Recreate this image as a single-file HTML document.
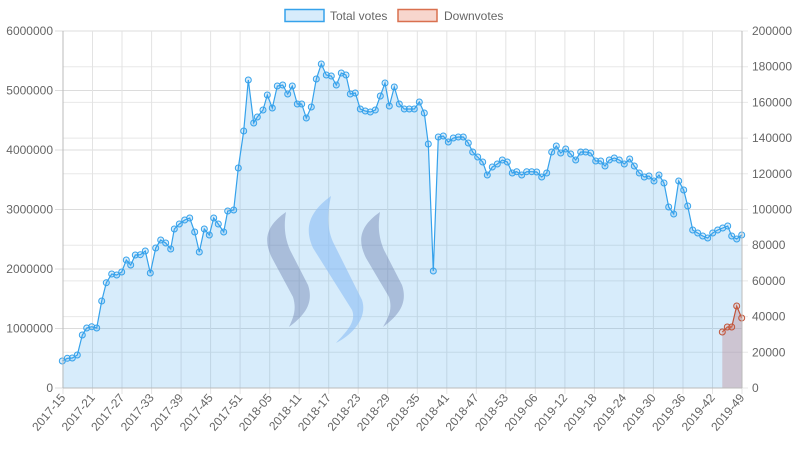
<!DOCTYPE html>
<html><head><meta charset="utf-8"><style>
html,body{margin:0;padding:0;background:#fff;}
svg{display:block;font-family:"Liberation Sans",Arial,sans-serif;}
</style></head><body>
<svg width="798" height="450" viewBox="0 0 798 450" xmlns="http://www.w3.org/2000/svg">
<defs>
<marker id="mb" markerWidth="8" markerHeight="8" refX="4" refY="4" markerUnits="userSpaceOnUse"><circle cx="4" cy="4" r="3" fill="rgba(54,162,235,0.2)" stroke="#36a2eb" stroke-width="1"/></marker>
<marker id="mr" markerWidth="8" markerHeight="8" refX="4" refY="4" markerUnits="userSpaceOnUse"><circle cx="4" cy="4" r="3" fill="rgba(230,120,90,0.2)" stroke="#c0543a" stroke-width="1"/></marker>
</defs>
<g stroke="#dcdcdc" stroke-width="1">
<line x1="55" x2="742" y1="388" y2="388"/><line x1="55" x2="742" y1="328.5" y2="328.5"/><line x1="55" x2="742" y1="269" y2="269"/><line x1="55" x2="742" y1="209.5" y2="209.5"/><line x1="55" x2="742" y1="150" y2="150"/><line x1="55" x2="742" y1="90.5" y2="90.5"/><line x1="55" x2="742" y1="31" y2="31"/>
</g>
<g stroke="#e8e8e8" stroke-width="1">
<line x1="63" x2="748" y1="352.3" y2="352.3"/><line x1="63" x2="748" y1="316.6" y2="316.6"/><line x1="63" x2="748" y1="280.9" y2="280.9"/><line x1="63" x2="748" y1="245.2" y2="245.2"/><line x1="63" x2="748" y1="173.8" y2="173.8"/><line x1="63" x2="748" y1="138.1" y2="138.1"/><line x1="63" x2="748" y1="102.4" y2="102.4"/><line x1="63" x2="748" y1="66.7" y2="66.7"/>
<line x1="742" x2="748" y1="388" y2="388"/><line x1="742" x2="748" y1="31" y2="31"/><line x1="742" x2="748" y1="209.5" y2="209.5"/>
</g>
<g stroke="#e3e3e3" stroke-width="1">
<line x1="92.5" x2="92.5" y1="31" y2="394"/><line x1="122" x2="122" y1="31" y2="394"/><line x1="151.6" x2="151.6" y1="31" y2="394"/><line x1="181.1" x2="181.1" y1="31" y2="394"/><line x1="210.6" x2="210.6" y1="31" y2="394"/><line x1="240.1" x2="240.1" y1="31" y2="394"/><line x1="269.7" x2="269.7" y1="31" y2="394"/><line x1="299.2" x2="299.2" y1="31" y2="394"/><line x1="328.7" x2="328.7" y1="31" y2="394"/><line x1="358.2" x2="358.2" y1="31" y2="394"/><line x1="387.7" x2="387.7" y1="31" y2="394"/><line x1="417.3" x2="417.3" y1="31" y2="394"/><line x1="446.8" x2="446.8" y1="31" y2="394"/><line x1="476.3" x2="476.3" y1="31" y2="394"/><line x1="505.8" x2="505.8" y1="31" y2="394"/><line x1="535.3" x2="535.3" y1="31" y2="394"/><line x1="564.9" x2="564.9" y1="31" y2="394"/><line x1="594.4" x2="594.4" y1="31" y2="394"/><line x1="623.9" x2="623.9" y1="31" y2="394"/><line x1="653.4" x2="653.4" y1="31" y2="394"/><line x1="683" x2="683" y1="31" y2="394"/><line x1="712.5" x2="712.5" y1="31" y2="394"/>
<line x1="63" x2="63" y1="388" y2="394"/><line x1="742" x2="742" y1="388" y2="394"/>
</g>
<g font-size="12" fill="#666" text-anchor="end">
<text x="53" y="392">0</text><text x="53" y="332.5">1000000</text><text x="53" y="273">2000000</text><text x="53" y="213.5">3000000</text><text x="53" y="154">4000000</text><text x="53" y="94.5">5000000</text><text x="53" y="35">6000000</text>
</g>
<g font-size="12" fill="#666">
<text x="752" y="392">0</text><text x="752" y="356.3">20000</text><text x="752" y="320.6">40000</text><text x="752" y="284.9">60000</text><text x="752" y="249.2">80000</text><text x="752" y="213.5">100000</text><text x="752" y="177.8">120000</text><text x="752" y="142.1">140000</text><text x="752" y="106.4">160000</text><text x="752" y="70.7">180000</text><text x="752" y="35">200000</text>
</g>
<g font-size="12" fill="#666" text-anchor="end">
<text transform="translate(66,398) rotate(-50)">2017-15</text>
<text transform="translate(95.5,398) rotate(-50)">2017-21</text>
<text transform="translate(125,398) rotate(-50)">2017-27</text>
<text transform="translate(154.6,398) rotate(-50)">2017-33</text>
<text transform="translate(184.1,398) rotate(-50)">2017-39</text>
<text transform="translate(213.6,398) rotate(-50)">2017-45</text>
<text transform="translate(243.1,398) rotate(-50)">2017-51</text>
<text transform="translate(272.7,398) rotate(-50)">2018-05</text>
<text transform="translate(302.2,398) rotate(-50)">2018-11</text>
<text transform="translate(331.7,398) rotate(-50)">2018-17</text>
<text transform="translate(361.2,398) rotate(-50)">2018-23</text>
<text transform="translate(390.7,398) rotate(-50)">2018-29</text>
<text transform="translate(420.3,398) rotate(-50)">2018-35</text>
<text transform="translate(449.8,398) rotate(-50)">2018-41</text>
<text transform="translate(479.3,398) rotate(-50)">2018-47</text>
<text transform="translate(508.8,398) rotate(-50)">2018-53</text>
<text transform="translate(538.3,398) rotate(-50)">2019-06</text>
<text transform="translate(567.9,398) rotate(-50)">2019-12</text>
<text transform="translate(597.4,398) rotate(-50)">2019-18</text>
<text transform="translate(626.9,398) rotate(-50)">2019-24</text>
<text transform="translate(656.4,398) rotate(-50)">2019-30</text>
<text transform="translate(686,398) rotate(-50)">2019-36</text>
<text transform="translate(715.5,398) rotate(-50)">2019-42</text>
<text transform="translate(745,398) rotate(-50)">2019-49</text>
</g>
<polygon fill="rgba(54,162,235,0.2)" points="62.3,388 62.3,361 67.3,358.3 72.3,358 77.3,355 82.3,335 86.7,328 91.7,326.7 96.7,328 101.7,301 106.3,282.7 111.7,274 116.7,275 121.7,272 126.3,260 130.7,265 135.3,255 140.3,254.7 145.3,251 150.3,273 155.7,248 160.7,240 165.7,243 170.7,249 174.3,229 179.3,224 184.7,220 189.7,218 194.7,232 199.3,252 204.3,229 209.3,235 213.7,218 218.3,224 223.7,232 227.7,211 233.7,210 238.3,168 243.7,131 248.3,80 253.7,123 257.3,117 263,110 267.3,95 272.3,108 277.3,86 282.7,85 287.7,94 292.3,86 297.3,104 301.7,104 306.3,118 311.3,107 316.3,79 321.3,64 326.3,75 331.3,76 336.3,85 341.3,73 346,75 350.3,94 355.3,93 360.3,109 365.3,111 370.3,112 375.3,110 380.3,96 385,83 389.3,106 394.3,87 399.3,104 404.3,109 409.3,109 414.3,109 419.3,102 424.3,113 428.3,144 433.3,271 438.3,137 443.3,136 448.3,142 453.3,138 458.3,137 463.3,137 468.3,143 472.7,152 477.7,157 482.7,162 487.3,175 492.3,167 497.3,164 502.3,160 507.3,162 512.3,173 516.7,171.7 521.7,175 526.7,171.7 531.7,171.7 536.7,172 541.7,177 546.7,173 551.7,152 556.3,146 560.7,153 565.7,149 570.7,154 575.7,160 580.7,152 585.7,152 590.7,153 595.7,161 600.7,161 605,166 609.3,160 614.3,158 619.3,160 624.3,164 629.7,159 634.3,166 639.3,173 644.3,177 649,176 654,181 659,175 664,183 668.7,207 673.7,214 678.7,181 683.7,190 687.7,206 692.7,230 697.7,233 702.7,236 707.7,238 712.7,233 717.7,230 722.7,228 727.7,226 731.7,236 736.7,239 741.7,235 741.7,388"/>
<path d="M286,212 C266,226 263,240 272,258 L293,297 C297,310 293,318 289,327 C305,315 314,303 308,285 L290,250 C284,236 284,224 286,212 Z" fill="rgba(100,120,170,0.4)"/>
<path d="M331,196 C309,212 304,228 313,248 L352,310 C357,322 345,333 336,343 C352,335 368,318 362,300 L333,242 C326,226 328,210 331,196 Z" fill="rgba(140,190,245,0.6)"/>
<path d="M380,212 C360,226 357,240 366,258 L389,297 C393,310 388,318 383,327 C399,315 408,303 402,285 L384,250 C378,236 378,224 380,212 Z" fill="rgba(100,120,170,0.4)"/>
<polygon fill="rgba(190,140,150,0.4)" points="722.3,388 722.3,332 727.3,327 731.7,327 736.7,306 741.7,318 741.7,388"/>
<polyline fill="none" stroke="#36a2eb" stroke-width="1.2" marker-start="url(#mb)" marker-mid="url(#mb)" marker-end="url(#mb)" points="62.3,361 67.3,358.3 72.3,358 77.3,355 82.3,335 86.7,328 91.7,326.7 96.7,328 101.7,301 106.3,282.7 111.7,274 116.7,275 121.7,272 126.3,260 130.7,265 135.3,255 140.3,254.7 145.3,251 150.3,273 155.7,248 160.7,240 165.7,243 170.7,249 174.3,229 179.3,224 184.7,220 189.7,218 194.7,232 199.3,252 204.3,229 209.3,235 213.7,218 218.3,224 223.7,232 227.7,211 233.7,210 238.3,168 243.7,131 248.3,80 253.7,123 257.3,117 263,110 267.3,95 272.3,108 277.3,86 282.7,85 287.7,94 292.3,86 297.3,104 301.7,104 306.3,118 311.3,107 316.3,79 321.3,64 326.3,75 331.3,76 336.3,85 341.3,73 346,75 350.3,94 355.3,93 360.3,109 365.3,111 370.3,112 375.3,110 380.3,96 385,83 389.3,106 394.3,87 399.3,104 404.3,109 409.3,109 414.3,109 419.3,102 424.3,113 428.3,144 433.3,271 438.3,137 443.3,136 448.3,142 453.3,138 458.3,137 463.3,137 468.3,143 472.7,152 477.7,157 482.7,162 487.3,175 492.3,167 497.3,164 502.3,160 507.3,162 512.3,173 516.7,171.7 521.7,175 526.7,171.7 531.7,171.7 536.7,172 541.7,177 546.7,173 551.7,152 556.3,146 560.7,153 565.7,149 570.7,154 575.7,160 580.7,152 585.7,152 590.7,153 595.7,161 600.7,161 605,166 609.3,160 614.3,158 619.3,160 624.3,164 629.7,159 634.3,166 639.3,173 644.3,177 649,176 654,181 659,175 664,183 668.7,207 673.7,214 678.7,181 683.7,190 687.7,206 692.7,230 697.7,233 702.7,236 707.7,238 712.7,233 717.7,230 722.7,228 727.7,226 731.7,236 736.7,239 741.7,235"/>
<polyline fill="none" stroke="#c0543a" stroke-width="1.2" marker-start="url(#mr)" marker-mid="url(#mr)" marker-end="url(#mr)" points="722.3,332 727.3,327 731.7,327 736.7,306 741.7,318"/>
<line x1="63" x2="63" y1="31" y2="388" stroke="#bbb"/>
<line x1="742" x2="742" y1="31" y2="388" stroke="#bbb"/>
<line x1="63" x2="742" y1="388" y2="388" stroke="#bbb"/>
<rect x="285" y="9.5" width="39" height="12" fill="rgba(54,162,235,0.2)" stroke="#36a2eb" stroke-width="1.5"/>
<text x="330" y="20" font-size="12" fill="#666">Total votes</text>
<rect x="398" y="9.5" width="39" height="12" fill="rgba(230,120,90,0.3)" stroke="#d9704f" stroke-width="1.5"/>
<text x="444" y="20" font-size="12" fill="#666">Downvotes</text>
</svg>
</body></html>
